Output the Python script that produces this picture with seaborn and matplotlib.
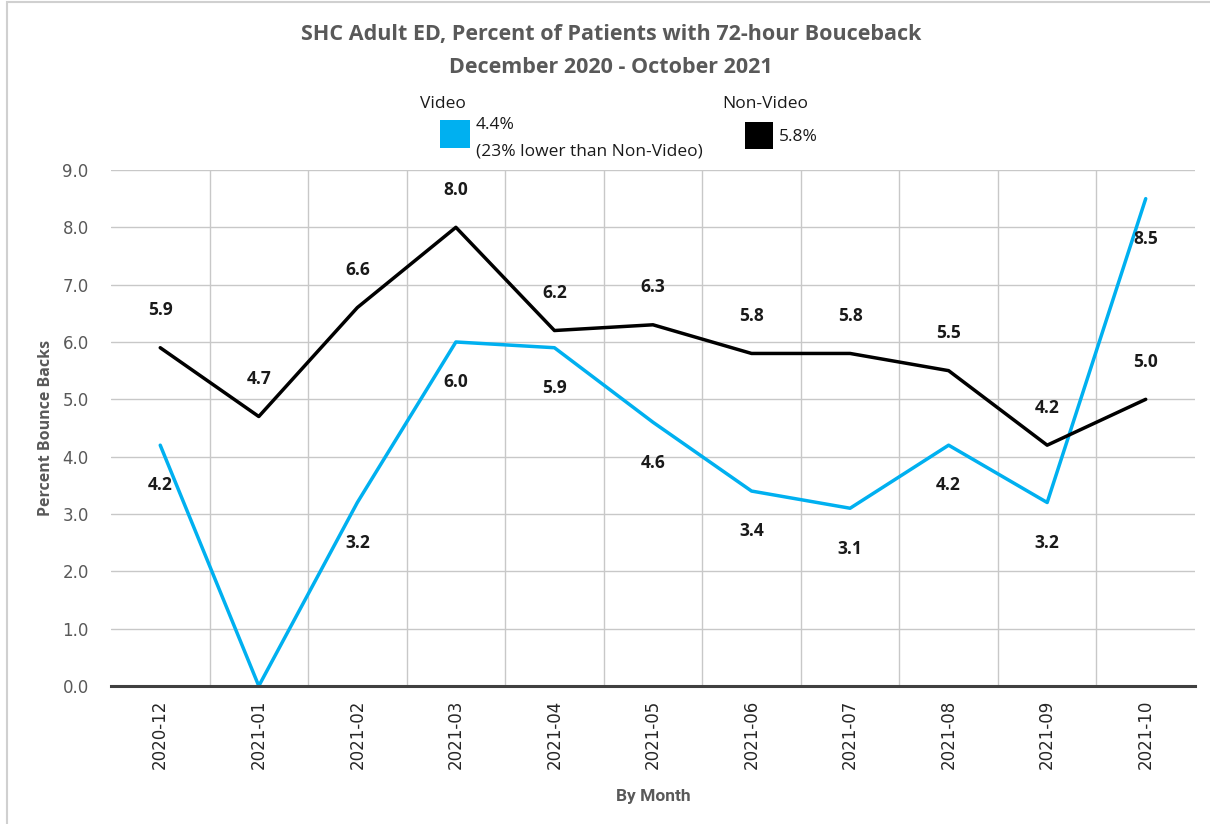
import matplotlib
matplotlib.use("Agg")
import matplotlib.pyplot as plt
import numpy as np
import pandas as pd
import seaborn as sns
from matplotlib.patches import Rectangle

MONTHS = ["2020-12", "2021-01", "2021-02", "2021-03", "2021-04", "2021-05",
          "2021-06", "2021-07", "2021-08", "2021-09", "2021-10"]
VIDEO = [4.2, 0.0, 3.2, 6.0, 5.9, 4.6, 3.4, 3.1, 4.2, 3.2, 8.5]
NON_VIDEO = [5.9, 4.7, 6.6, 8.0, 6.2, 6.3, 5.8, 5.8, 5.5, 4.2, 5.0]
VIDEO_AVG = "4.4%"
NON_VIDEO_AVG = "5.8%"

BLUE = "#00B0F0"
GRAY = "#595959"

sns.set_theme(style="white")
plt.rcParams["font.family"] = ["Open Sans", "DejaVu Sans"]

df = pd.DataFrame({
    "x": list(range(len(MONTHS))) * 2,
    "value": VIDEO + NON_VIDEO,
    "series": ["Video"] * len(MONTHS) + ["Non-Video"] * len(MONTHS),
})

fig = plt.figure(figsize=(12.1, 8.24), dpi=100)
ax = fig.add_axes([0.0917, 0.1675, 0.8959, 0.6262])

sns.lineplot(data=df, x="x", y="value", hue="series",
             palette={"Video": BLUE, "Non-Video": "black"},
             linewidth=2.5, legend=False, ax=ax, sort=False)

ax.set_xlim(-0.5, len(MONTHS) - 0.5)
ax.set_ylim(0, 9)
ax.set_yticks(np.arange(0, 9.5, 1.0))
ax.set_yticklabels([f"{v:.1f}" for v in np.arange(0, 9.5, 1.0)],
                   family="DejaVu Sans", fontsize=12, color=GRAY)
ax.set_xticks(range(len(MONTHS)))
ax.set_xticklabels(MONTHS, rotation=90, family="DejaVu Sans",
                   fontsize=12, color="#262626")
ax.set_xticks(np.arange(0.5, len(MONTHS) - 1, 1.0), minor=True)
ax.tick_params(axis="y", which="both", length=0, pad=16)
ax.tick_params(axis="x", which="both", length=0, pad=10)

ax.grid(axis="y", which="major", color="#c8c8c8", linewidth=1)
ax.grid(axis="x", which="minor", color="#c8c8c8", linewidth=1)
ax.set_axisbelow(True)
for s in ["top", "right", "left"]:
    ax.spines[s].set_visible(False)
ax.spines["bottom"].set_color("#404040")
ax.spines["bottom"].set_linewidth(2.2)

ax.set_xlabel("By Month", fontsize=12.5, fontweight="bold", color=GRAY,
              family=["Roboto", "DejaVu Sans"], labelpad=14)
ax.set_ylabel("Percent Bounce Backs", fontsize=11.5, fontweight="bold",
              color=GRAY, labelpad=6)

# data labels: Non-Video above the line, Video below
for i, v in enumerate(NON_VIDEO):
    ax.annotate(f"{v:.1f}", (i, v), xytext=(0, 27), textcoords="offset points",
                ha="center", va="center", fontsize=12.5, fontweight="bold",
                color="#1a1a1a")
for i, v in enumerate(VIDEO):
    if v == 0:
        continue
    ax.annotate(f"{v:.1f}", (i, v), xytext=(0, -29), textcoords="offset points",
                ha="center", va="center", fontsize=12.5, fontweight="bold",
                color="#1a1a1a")

# title
fig.text(0.505, 0.958, "SHC Adult ED, Percent of Patients with 72-hour Bouceback",
         ha="center", va="center", fontsize=15.5, fontweight="bold", color=GRAY)
fig.text(0.505, 0.918, "December 2020 - October 2021",
         ha="center", va="center", fontsize=15.5, fontweight="bold", color=GRAY)

# custom legend
fig.text(443 / 1210, 1 - 104 / 824, "Video", ha="center", va="center",
         fontsize=12.5, color="#1a1a1a")
fig.add_artist(Rectangle((440 / 1210, 1 - 148 / 824), 30 / 1210, 28 / 824,
                         transform=fig.transFigure, facecolor=BLUE, edgecolor="none"))
fig.text(476 / 1210, 1 - 125 / 824, VIDEO_AVG, ha="left", va="center",
         fontsize=12.5, color="#1a1a1a")
fig.text(476 / 1210, 1 - 151 / 824, "(23% lower than Non-Video)", ha="left",
         va="center", fontsize=12.5, color="#1a1a1a")
fig.text(765 / 1210, 1 - 104 / 824, "Non-Video", ha="center", va="center",
         fontsize=12.5, color="#1a1a1a")
fig.add_artist(Rectangle((745 / 1210, 1 - 149 / 824), 28 / 1210, 27 / 824,
                         transform=fig.transFigure, facecolor="black", edgecolor="none"))
fig.text(779 / 1210, 1 - 137 / 824, NON_VIDEO_AVG, ha="left", va="center",
         fontsize=12.5, color="#1a1a1a")

# chart frame
fig.add_artist(Rectangle((7 / 1210, -0.05), 1.1, 1 - 2 / 824 + 0.05,
                         transform=fig.transFigure, facecolor="none",
                         edgecolor="#d0d0d0", linewidth=1.5))

fig.savefig("out.png", dpi=100)
